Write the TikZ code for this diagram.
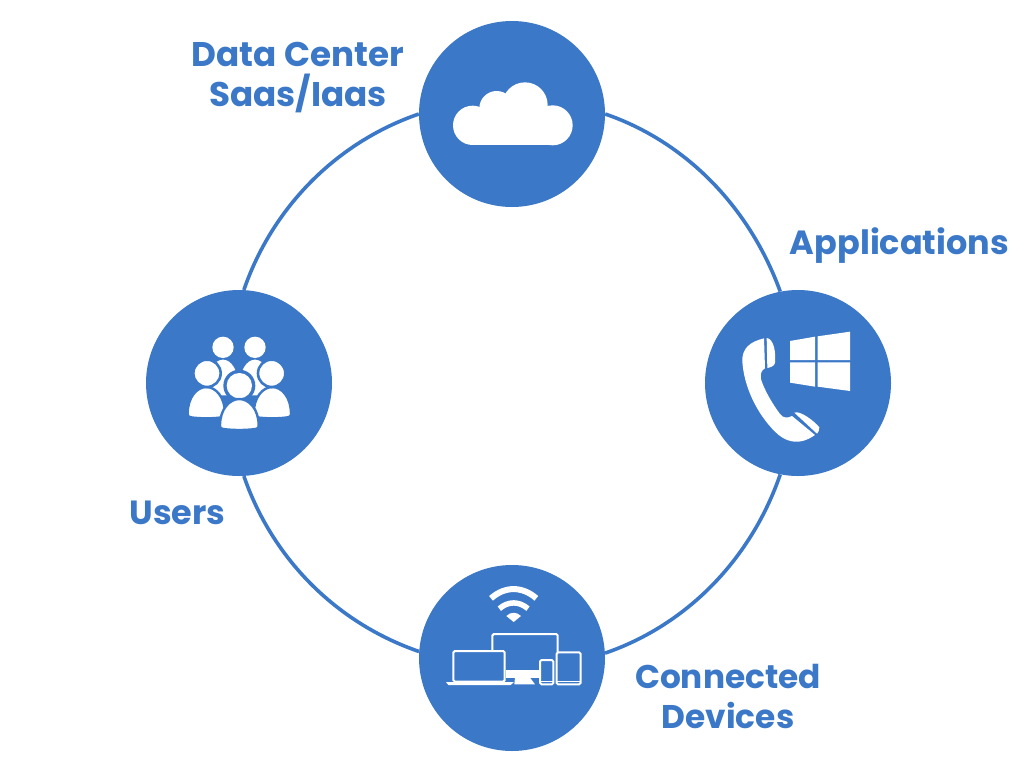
\documentclass[tikz,border=0pt]{standalone}
\usepackage{fontspec}
\setmainfont{Poppins}[BoldFont={Poppins Bold}]
\definecolor{hub}{HTML}{3B78C8}
\newcommand{\personbody}[4]{%
  \filldraw[fill=white,draw=hub,line width=2.4pt]
    (#1-#4,#3-14) .. controls (#1-#4,#2+30) and (#1-#4*0.5,#2) .. (#1,#2)
    .. controls (#1+#4*0.5,#2) and (#1+#4,#2+30) .. (#1+#4,#3-14)
    .. controls (#1+#4,#3-4) and (#1+#4-6,#3-4) .. (#1+#4-10,#3-3)
    .. controls (#1+20,#3+1) and (#1-20,#3+1) .. (#1-#4+10,#3-3)
    .. controls (#1-#4+6,#3-4) and (#1-#4,#3-4) .. (#1-#4,#3-14) -- cycle;}
\tikzset{
  hubnode/.style={circle,fill=hub,draw=none,minimum size=186pt,inner sep=0pt},
  ringline/.style={draw=hub,line width=3.6pt,looseness=0.9},
  lab/.style={text=hub,font=\fontsize{33.5}{40}\selectfont\bfseries,align=center,inner sep=0pt},
  zoomed/.style={x=0.33333pt,y=-0.33333pt},
  thinwhite/.style={draw=white,line width=2pt,fill=hub,rounded corners=1.5pt}
}
\begin{document}
\begin{tikzpicture}[x=1pt,y=-1pt]
\useasboundingbox (0,0) rectangle (1024,768);
\fill[white] (0,0) rectangle (1024,768);
\node[hubnode] (top) at (512,114) {};
\node[hubnode] (right) at (798,383) {};
\node[hubnode] (bottom) at (512,658) {};
\node[hubnode] (left) at (239,383) {};
\draw[ringline] (top.0) to[out=-19,in=110] (right.101);
\draw[ringline] (right.-101) to[out=-109,in=19] (bottom.3.7);
\draw[ringline] (bottom.176.3) to[out=161,in=-71] (left.-87.3);
\draw[ringline] (left.87.3) to[out=71,in=199] (top.180);
\node[lab,font=\fontsize{34.2}{40}\selectfont\bfseries] (ldc) at (298,78) {Data Center\\Saas/Iaas};
\node[lab] (lapp) at (899.5,246) {Applications};
\node[lab] (lusr) at (177.5,513) {Users};
\node[lab,font=\fontsize{32.8}{40}\selectfont\bfseries] (ldev) at (728,696) {Connected\\Devices};
% cloud
\begin{scope}[shift={(420,20)},zoomed]
\fill[white] (158,316) circle[radius=59];
\fill[white] (398,316) circle[radius=60];
\fill[white] (315,255) circle[radius=68];
\fill[white] (230,265) circle[radius=52];
\fill[white] (158,290) rectangle (398,375);
\end{scope}
% people
\begin{scope}[shift={(146,290)},zoomed]
\personbody{231}{205}{320}{52}
\personbody{327}{205}{320}{52}
\fill[white] (231,172) circle[radius=32];
\fill[white] (327,172) circle[radius=32];
\personbody{181}{291}{385}{56}
\personbody{379}{291}{385}{56}
\filldraw[fill=white,draw=hub,line width=2.6pt] (183,250) circle[radius=41];
\filldraw[fill=white,draw=hub,line width=2.6pt] (377,250) circle[radius=41];
\fill[hub] (280,287) circle[radius=48];
\fill[white] (280,287) circle[radius=38];
\personbody{280}{327}{420}{58}
\end{scope}
% phone and windows
\begin{scope}[shift={(700,290)},zoomed]
\fill[white] (192,145) .. controls (150,155) and (125,175) .. (127,215)
  .. controls (132,290) and (170,370) .. (225,425)
  .. controls (255,455) and (295,470) .. (345,435)
  -- (276,378) .. controls (262,385) and (250,385) .. (240,372)
  .. controls (220,345) and (195,305) .. (183,268)
  .. controls (180,250) and (185,240) .. (195,235) -- cycle;
\fill[white] (200,144) .. controls (222,146) and (228,190) .. (225,218)
  .. controls (224,228) and (212,232) .. (202,234) -- cycle;
\fill[white] (283,368) .. controls (300,360) and (345,395) .. (358,412)
  .. controls (358,420) and (355,428) .. (351,431) -- cycle;
\fill[white] (270,153) -- (345,140) -- (345,210) -- (270,210) -- cycle;
\fill[white] (353,139) -- (450,125) -- (450,210) -- (353,210) -- cycle;
\fill[white] (270,217) -- (345,217) -- (345,290) -- (270,278) -- cycle;
\fill[white] (353,217) -- (450,217) -- (450,303) -- (353,290) -- cycle;
\end{scope}
% devices
\begin{scope}[shift={(420,565)},zoomed]
\draw[white,line width=6pt] (213,100) .. controls (255,63) and (307,63) .. (349,100);
\draw[white,line width=5.5pt] (238,131) .. controls (265,108) and (297,108) .. (324,131);
\fill[white] (259,153) .. controls (272,140) and (290,140) .. (303,153) -- (281,171) -- cycle;
\draw[thinwhite] (217,316) -- (217,207) -- (413,207) -- (413,316);
\fill[white] (258,314) rectangle (358,338);
\fill[white] (285,338) -- (330,338) -- (345,358) -- (283,358) -- cycle;
\draw[thinwhite] (100,350) -- (100,258) -- (254,258) -- (254,350) -- cycle;
\fill[white] (78,351) -- (282,351) -- (272,360) -- (85,360) -- cycle;
\draw[thinwhite] (360,285) rectangle (400,358);
\draw[white,line width=1pt] (360,349) -- (400,349);
\draw[thinwhite] (410,262) rectangle (482,358);
\draw[white,line width=1pt] (410,350) -- (482,350);
\end{scope}
\end{tikzpicture}
\end{document}
